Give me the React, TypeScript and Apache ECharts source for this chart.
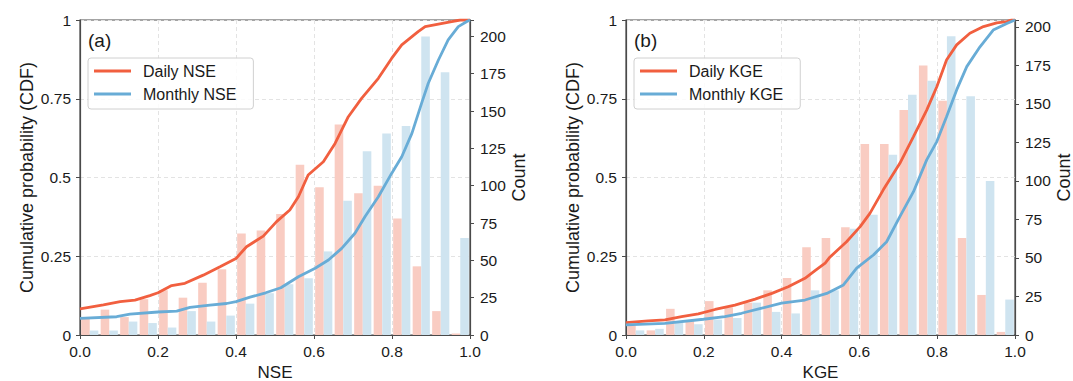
import React, { useEffect, useRef } from "react";
import * as echarts from "echarts";

const binCenters = [0.025, 0.075, 0.125, 0.175, 0.225, 0.275, 0.325, 0.375, 0.425, 0.475, 0.525, 0.575, 0.625, 0.675, 0.725, 0.775, 0.825, 0.875, 0.925, 0.975];
const nseDailyCounts = [12, 17, 12, 24, 30, 25, 35, 44, 68, 70, 81, 114, 99, 141, 95, 100, 78, 46, 16, 1];
const nseMonthlyCounts = [3, 3, 9, 8, 5, 16, 9, 13, 21, 28, 34, 38, 56, 90, 123, 135, 140, 200, 176, 65];
const kgeDailyCounts = [6, 3, 17, 9, 22, 18, 21, 29, 37, 57, 63, 70, 124, 124, 146, 175, 152, 63, 26, 2];
const kgeMonthlyCounts = [3, 4, 8, 7, 10, 11, 21, 15, 14, 29, 29, 69, 78, 117, 156, 165, 194, 155, 100, 23];

const nseDailyCdf = [[0, 0.083], [0.06, 0.096], [0.103, 0.106], [0.141, 0.111], [0.179, 0.125], [0.2, 0.134], [0.235, 0.157], [0.269, 0.164], [0.316, 0.19], [0.359, 0.217], [0.4, 0.243], [0.427, 0.28], [0.47, 0.314], [0.504, 0.36], [0.538, 0.397], [0.56, 0.439], [0.585, 0.508], [0.624, 0.55], [0.654, 0.608], [0.688, 0.693], [0.722, 0.751], [0.765, 0.815], [0.799, 0.878], [0.825, 0.921], [0.867, 0.963], [0.885, 0.979], [0.919, 0.987], [0.953, 0.995], [0.975, 1], [1, 1]];
const nseMonthlyCdf = [[0, 0.053], [0.094, 0.058], [0.128, 0.066], [0.2, 0.073], [0.248, 0.076], [0.282, 0.088], [0.333, 0.095], [0.376, 0.1], [0.4, 0.106], [0.436, 0.12], [0.476, 0.134], [0.515, 0.15], [0.56, 0.185], [0.603, 0.212], [0.637, 0.238], [0.671, 0.275], [0.705, 0.323], [0.731, 0.376], [0.765, 0.439], [0.799, 0.513], [0.825, 0.566], [0.851, 0.64], [0.876, 0.736], [0.893, 0.799], [0.919, 0.873], [0.944, 0.937], [0.97, 0.979], [0.992, 0.995], [1, 1]];
const kgeDailyCdf = [[0, 0.039], [0.057, 0.045], [0.1, 0.048], [0.143, 0.058], [0.186, 0.067], [0.229, 0.081], [0.28, 0.095], [0.332, 0.114], [0.375, 0.132], [0.417, 0.153], [0.46, 0.18], [0.486, 0.204], [0.512, 0.228], [0.524, 0.247], [0.567, 0.296], [0.602, 0.344], [0.627, 0.386], [0.661, 0.46], [0.704, 0.545], [0.739, 0.63], [0.773, 0.714], [0.799, 0.788], [0.824, 0.873], [0.85, 0.921], [0.884, 0.958], [0.919, 0.979], [0.953, 0.991], [0.979, 0.995], [0.99, 1], [1, 1]];
const kgeMonthlyCdf = [[0, 0.032], [0.1, 0.037], [0.199, 0.05], [0.254, 0.058], [0.297, 0.069], [0.349, 0.085], [0.4, 0.101], [0.46, 0.111], [0.516, 0.132], [0.559, 0.159], [0.593, 0.212], [0.636, 0.254], [0.67, 0.296], [0.704, 0.376], [0.739, 0.455], [0.773, 0.556], [0.799, 0.614], [0.824, 0.693], [0.85, 0.778], [0.876, 0.852], [0.91, 0.915], [0.944, 0.968], [0.979, 0.989], [1, 1]];

const xTicks = [0, 0.2, 0.4, 0.6, 0.8, 1.0];
const cdfTicks = [0, 0.25, 0.5, 0.75, 1];
const countTicks = [0, 25, 50, 75, 100, 125, 150, 175, 200];
const nseCountMax = 211;
const kgeCountMax = 204.5;

const FONT = "'Liberation Sans', Arial, sans-serif";
const RED = "#f15f3f";
const BLUE = "#68acd6";
const RED_BAR = "#f9ccc2";
const BLUE_BAR = "#cfe4f0";
const FRAME = "#4a4a4a";
const BAR_W = 0.022;

function barSeries(name: string, counts: number[], side: number, color: string, axIdx: number) {
  return {
    type: "custom",
    name,
    xAxisIndex: axIdx,
    yAxisIndex: axIdx * 2 + 1,
    z: 1,
    silent: true,
    data: binCenters.map((c, i) => [c, counts[i]]),
    encode: { x: 0, y: 1 },
    renderItem: (params: any, api: any) => {
      const c = api.value(0);
      const v = api.value(1);
      const x0 = side < 0 ? c - BAR_W : c;
      const p0 = api.coord([x0, 0]);
      const p1 = api.coord([x0 + BAR_W, v]);
      return {
        type: "rect",
        shape: { x: p0[0], y: p1[1], width: p1[0] - p0[0], height: p0[1] - p1[1] },
        style: { fill: color },
      };
    },
  };
}

function lineSeries(name: string, data: number[][], color: string, axIdx: number) {
  return {
    type: "line",
    name,
    xAxisIndex: axIdx,
    yAxisIndex: axIdx * 2,
    z: 3,
    data,
    symbol: "none",
    smooth: false,
    lineStyle: { color, width: 2.8 },
    itemStyle: { color },
  };
}

const labelStyle = { fontFamily: FONT, fontSize: 15.5, color: "#1a1a1a" };
const nameStyle = { fontFamily: FONT, fontSize: 18, color: "#1a1a1a" };

function xAxis(gi: number, name: string) {
  return {
    type: "value",
    gridIndex: gi,
    min: 0,
    max: 1,
    interval: 0.2,
    name,
    nameLocation: "middle",
    nameGap: 19,
    nameTextStyle: { ...nameStyle, fontSize: 17 },
    axisLine: { show: true, lineStyle: { color: FRAME, width: 1.2 } },
    axisTick: { show: true, inside: false, length: 4, lineStyle: { color: FRAME } },
    axisLabel: { ...labelStyle, margin: 8, formatter: (v: number) => (xTicks.includes(+v.toFixed(2)) ? v.toFixed(1) : "") },
    splitLine: { show: true, lineStyle: { color: "#e3e3e3", type: [4, 3], width: 1 } },
  };
}

function cdfAxis(gi: number) {
  return {
    type: "value",
    gridIndex: gi,
    position: "left",
    min: 0,
    max: 1,
    interval: 0.25,
    name: "Cumulative probability (CDF)",
    nameLocation: "middle",
    nameGap: 44,
    nameTextStyle: nameStyle,
    axisLine: { show: true, lineStyle: { color: FRAME, width: 1.2 } },
    axisTick: { show: true, inside: false, length: 4, lineStyle: { color: FRAME } },
    axisLabel: { ...labelStyle, margin: 9, formatter: (v: number) => (cdfTicks.includes(v) ? String(v) : "") },
    splitLine: { show: true, lineStyle: { color: "#e3e3e3", type: [4, 3], width: 1 } },
  };
}

function countAxis(gi: number, max: number) {
  return {
    type: "value",
    gridIndex: gi,
    position: "right",
    min: 0,
    max,
    interval: 25,
    name: "Count",
    nameLocation: "middle",
    nameGap: 40,
    nameRotate: 90,
    nameTextStyle: nameStyle,
    axisLine: { show: true, lineStyle: { color: FRAME, width: 1.2 } },
    axisTick: { show: true, inside: false, length: 4, lineStyle: { color: FRAME } },
    axisLabel: { ...labelStyle, margin: 10, formatter: (v: number) => (countTicks.includes(v) ? String(v) : "") },
    splitLine: { show: false },
  };
}

function legend(left: number, names: string[]) {
  return {
    left,
    top: 58,
    orient: "vertical",
    data: names,
    icon: "rect",
    itemWidth: 37,
    itemHeight: 3,
    itemGap: 7,
    padding: [5, 17, 7, 6],
    borderColor: "#d0d0d0",
    borderWidth: 1,
    borderRadius: 3,
    backgroundColor: "rgba(255,255,255,0.85)",
    textStyle: { fontFamily: FONT, fontSize: 16, color: "#1a1a1a", padding: [0, 0, 0, 7] },
  };
}

export default function App() {
  const ref = useRef<HTMLDivElement>(null);
  useEffect(() => {
    document.body.style.margin = "0";
    const chart = echarts.init(ref.current!, null, { renderer: "svg" });
    chart.setOption({
      animation: false,
      backgroundColor: "#ffffff",
      grid: [
        { left: 80, top: 20, width: 390, height: 315, show: true, borderColor: FRAME, borderWidth: 1.2, containLabel: false, outerBoundsMode: "none" },
        { left: 626, top: 20, width: 389, height: 315, show: true, borderColor: FRAME, borderWidth: 1.2, containLabel: false, outerBoundsMode: "none" },
      ],
      xAxis: [xAxis(0, "NSE"), xAxis(1, "KGE")],
      yAxis: [cdfAxis(0), countAxis(0, nseCountMax), cdfAxis(1), countAxis(1, kgeCountMax)],
      legend: [legend(88, ["Daily NSE", "Monthly NSE"]), legend(634, ["Daily KGE", "Monthly KGE"])],
      graphic: [
        { type: "text", left: 88, top: 31, style: { text: "(a)", fontFamily: FONT, fontSize: 19, fill: "#1a1a1a" } },
        { type: "text", left: 634, top: 31, style: { text: "(b)", fontFamily: FONT, fontSize: 19, fill: "#1a1a1a" } },
      ],
      series: [
        barSeries("Daily NSE bars", nseDailyCounts, -1, RED_BAR, 0),
        barSeries("Monthly NSE bars", nseMonthlyCounts, 1, BLUE_BAR, 0),
        lineSeries("Daily NSE", nseDailyCdf, RED, 0),
        lineSeries("Monthly NSE", nseMonthlyCdf, BLUE, 0),
        barSeries("Daily KGE bars", kgeDailyCounts, -1, RED_BAR, 1),
        barSeries("Monthly KGE bars", kgeMonthlyCounts, 1, BLUE_BAR, 1),
        lineSeries("Daily KGE", kgeDailyCdf, RED, 1),
        lineSeries("Monthly KGE", kgeMonthlyCdf, BLUE, 1),
      ],
    });
    return () => chart.dispose();
  }, []);
  return (
    <div
      ref={ref}
      style={{ position: "fixed", left: 0, top: 0, width: 1073, height: 381, overflow: "hidden" }}
    />
  );
}
